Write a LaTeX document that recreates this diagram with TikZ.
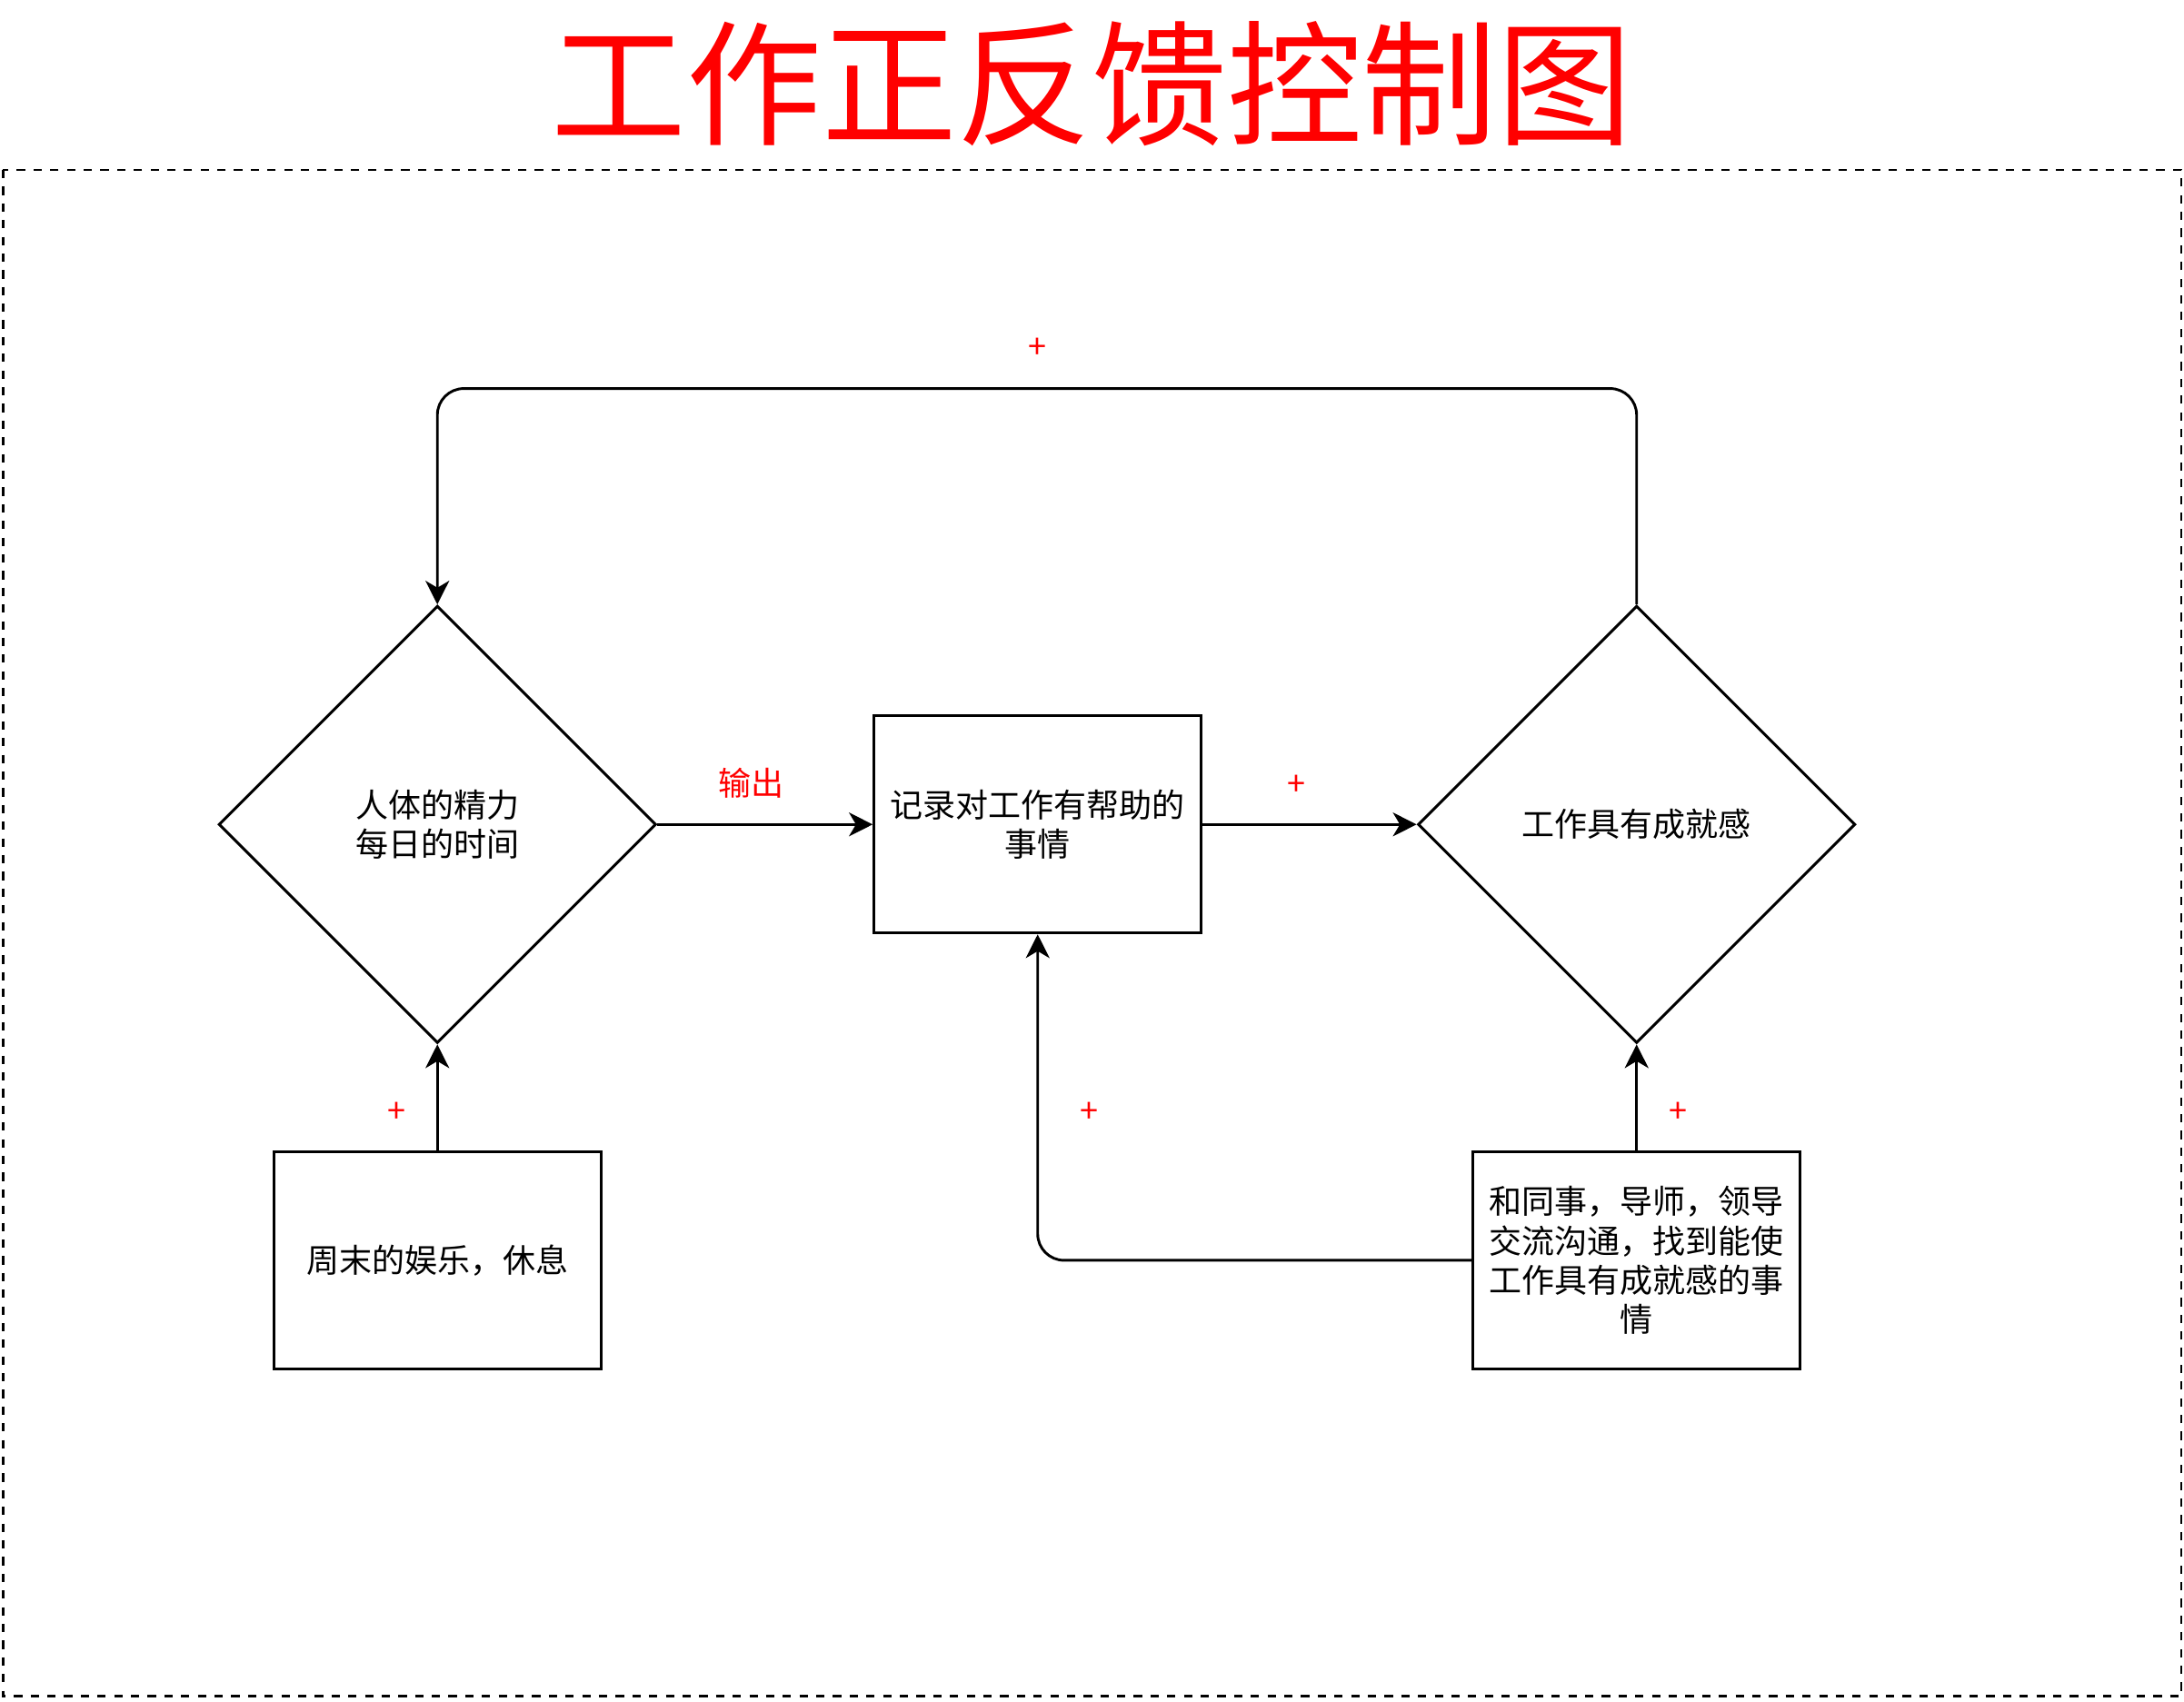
\documentclass[tikz,border=0pt]{standalone}
\usepackage{fontspec}
\setmainfont{Noto Sans CJK SC}
\usetikzlibrary{shapes.geometric,arrows.meta}

\tikzset{
  txt/.style={font=\fontsize{23.5}{28.2}\selectfont},
  box/.style={draw, txt, line width=1.9pt, minimum width=235pt, minimum height=156pt, inner sep=0pt, align=center},
  decision/.style={draw, txt, diamond, aspect=1, line width=1.9pt, minimum width=314pt, minimum height=314pt, inner sep=0pt, align=center},
  link/.style={line width=1.9pt, rounded corners=19pt, -{Stealth[length=17pt,width=17pt,inset=5pt]}},
  sign/.style={txt, text=red},
}

\begin{document}
\begin{tikzpicture}[x=1pt, y=-1pt]
    \useasboundingbox (0,0) rectangle (1568,1222);

    % Title and dashed frame
    \node[text=red, font=\fontsize{97}{110}\selectfont] (title) at (784,60) {工作正反馈控制图};
    \draw[line width=1.9pt, dash pattern=on 6pt off 6pt] (2,122) rectangle (1566,1218);

    % Decisions
    \node[decision] (energy) at (314,592) {人体的精力\\每日的时间};
    \node[decision] (achieve) at (1175,592) {工作具有成就感};

    % Boxes
    \node[box] (record) at (745,592) {记录对工作有帮助的\\事情};
    \node[box] (rest) at (314,905) {周末的娱乐，休息};
    \node[box] (talk) at (1175,905) {和同事，导师，领导\\交流沟通，找到能使\\工作具有成就感的事\\情};

    % Main chain
    \draw[link] (energy.east) -- (record.west);
    \draw[link] (record.east) -- (achieve.west);
    \draw[link] (rest.north) -- (energy.south);
    \draw[link] (talk.north) -- (achieve.south);

    % Feedback loops
    \coordinate (loopR) at (1175,279);
    \coordinate (loopL) at (314,279);
    \draw[link] (achieve.north) -- (loopR) -- (loopL) -- (energy.north);
    \coordinate (turn) at (745,905);
    \draw[link] (talk.west) -- (turn) -- (record.south);

    % Signs
    \node[sign] (out) at (539,562) {输出};
    \node[sign] (pTop) at (745,250) {+};
    \node[sign] (pMid) at (931,564) {+};
    \node[sign] (pRest) at (285,799) {+};
    \node[sign] (pTurn) at (782,799) {+};
    \node[sign] (pTalk) at (1205,799) {+};
\end{tikzpicture}
\end{document}
